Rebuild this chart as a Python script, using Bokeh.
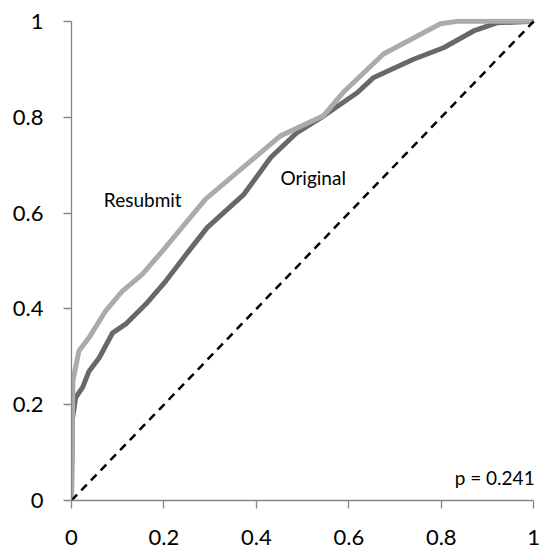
from bokeh.plotting import figure
from bokeh.models import Range1d, FixedTicker, Label
from bokeh.embed import file_html
from bokeh.resources import INLINE

# ROC curve data (false positive rate, true positive rate)
original_fpr = [0.0, 0.002, 0.009, 0.024, 0.038, 0.060, 0.089, 0.117, 0.161, 0.204, 0.254,
                0.294, 0.373, 0.431, 0.488, 0.546, 0.618, 0.654, 0.740, 0.805, 0.870, 0.920, 1.0]
original_tpr = [0.0, 0.17, 0.215, 0.236, 0.270, 0.298, 0.350, 0.368, 0.410, 0.458, 0.521,
                0.570, 0.639, 0.716, 0.768, 0.803, 0.851, 0.883, 0.921, 0.945, 0.980, 0.997, 1.0]

resubmit_fpr = [0.0, 0.003, 0.016, 0.038, 0.074, 0.110, 0.153, 0.197, 0.290, 0.452, 0.545,
                0.588, 0.675, 0.798, 0.834, 1.0]
resubmit_tpr = [0.0, 0.249, 0.312, 0.340, 0.396, 0.437, 0.472, 0.521, 0.629, 0.761, 0.803,
                0.852, 0.932, 0.995, 1.0, 1.0]

diag_x = [0.0, 1.0]
diag_y = [0.0, 1.0]

ticks = [0, 0.2, 0.4, 0.6, 0.8, 1]
tick_labels = {0: "0", 0.2: "0.2", 0.4: "0.4", 0.6: "0.6", 0.8: "0.8", 1: "1"}

pad = 0.006
p = figure(width=541, height=548, output_backend="svg", toolbar_location=None,
           x_range=Range1d(0, 1 + pad), y_range=Range1d(0, 1 + pad),
           min_border_left=71, min_border_right=5, min_border_top=18, min_border_bottom=48)
p.outline_line_color = None
p.grid.grid_line_color = None
p.background_fill_color = "white"
p.border_fill_color = "white"

for ax in (p.xaxis[0], p.yaxis[0]):
    ax.ticker = FixedTicker(ticks=ticks)
    ax.major_label_overrides = tick_labels
    ax.bounds = (0, 1)
    ax.axis_line_color = "#868686"
    ax.axis_line_width = 1.3
    ax.major_tick_line_color = "#868686"
    ax.major_tick_line_width = 1.3
    ax.major_tick_out = 8
    ax.major_tick_in = 0
    ax.minor_tick_line_color = None
    ax.major_label_text_font = "Lato"
    ax.major_label_text_font_size = "22px"
    ax.major_label_text_color = "black"
p.xaxis.major_label_standoff = 21
p.yaxis.major_label_standoff = 20

p.line(original_fpr, original_tpr, line_color="#686868", line_width=5, line_join="round")
p.line(resubmit_fpr, resubmit_tpr, line_color="#ABABAB", line_width=5, line_join="round")
p.line(diag_x, diag_y, line_color="black", line_width=2.5, line_dash="8 6")

for txt, x, y, align in [("Resubmit", 0.070, 0.628, "left"),
                         ("Original", 0.452, 0.674, "left"),
                         ("p = 0.241", 1.002, 0.048, "right")]:
    p.add_layout(Label(x=x, y=y, text=txt, text_align=align, text_baseline="alphabetic",
                       text_font="Lato", text_font_size="19px", text_color="black"))

open("out.html", "w").write(file_html(p, INLINE))
